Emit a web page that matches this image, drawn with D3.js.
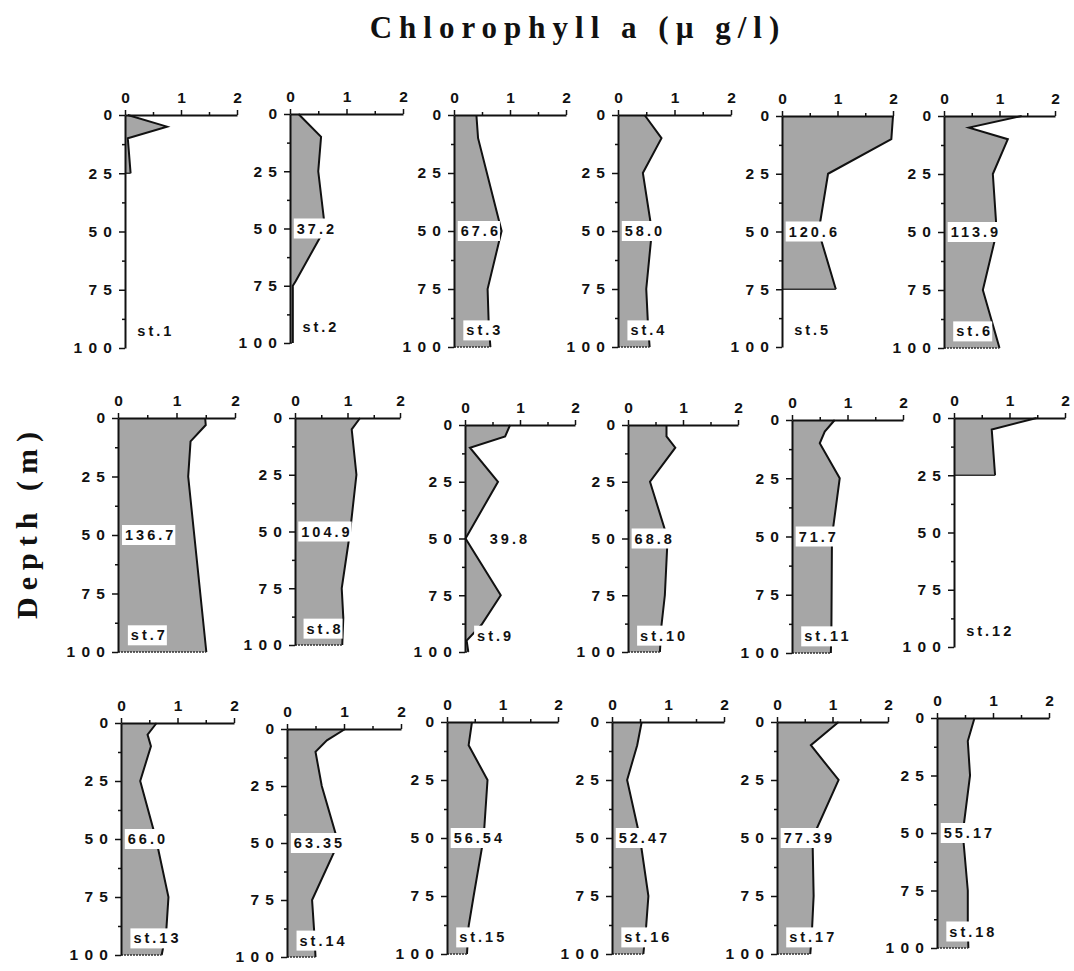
<!DOCTYPE html>
<html>
<head>
<meta charset="utf-8">
<script src="https://cdn.jsdelivr.net/npm/d3@7"></script>
<style>
  body { margin: 0; background: #fff; }
  .tick text { font-family: "Liberation Sans", Arial, sans-serif; font-weight: bold; font-size: 15.5px; fill: #111; }
  .ytk .tick text { letter-spacing: 1px; }
  .lbl { font-family: "Liberation Sans", Arial, sans-serif; font-weight: bold; font-size: 14.5px; fill: #111; letter-spacing: 3px; }
  .ttl { font-family: "Liberation Serif", "Times New Roman", serif; font-weight: bold; fill: #111; }
</style>
</head>
<body>
<div id="chart"></div>
<script>
// data: depth (m) and chlorophyll a (ug/l) per station
var stations = ["st.1","st.2","st.3","st.4","st.5","st.6","st.7","st.8","st.9",
  "st.10","st.11","st.12","st.13","st.14","st.15","st.16","st.17","st.18"];
var totals = ["", "37.2", "67.6", "58.0", "120.6", "113.9", "136.7", "104.9", "39.8",
  "68.8", "71.7", "", "66.0", "63.35", "56.54", "52.47", "77.39", "55.17"];
var depths = [
  [0, 5, 10, 25],
  [0, 10, 25, 50, 73, 75, 100],
  [0, 10, 50, 75, 90, 100],
  [0, 10, 25, 50, 75, 90, 100],
  [0, 10, 25, 50, 75],
  [0, 5, 10, 25, 50, 75, 90, 100],
  [0, 3, 10, 25, 100],
  [0, 5, 25, 50, 75, 88, 100],
  [0, 5, 10, 25, 50, 75, 88, 95, 100],
  [0, 5, 10, 25, 50, 75, 88, 100],
  [0, 5, 10, 25, 50, 90, 100],
  [0, 5, 25],
  [0, 5, 10, 25, 50, 75, 90, 100],
  [0, 5, 10, 25, 50, 75, 90, 100],
  [0, 10, 25, 50, 75, 88, 100],
  [0, 10, 25, 50, 75, 88, 100],
  [0, 10, 25, 50, 75, 90, 100],
  [0, 10, 25, 50, 75, 90, 100]
];
var chl = [
  [0.05, 0.75, 0.05, 0.1],
  [0.15, 0.55, 0.5, 0.62, 0.1, 0.05, 0.05],
  [0.4, 0.43, 0.85, 0.6, 0.62, 0.65],
  [0.47, 0.77, 0.44, 0.6, 0.5, 0.53, 0.56],
  [2.0, 1.97, 0.83, 0.66, 0.97],
  [1.4, 0.45, 1.15, 0.88, 0.95, 0.7, 0.88, 1.0],
  [1.49, 1.5, 1.24, 1.2, 1.51],
  [1.24, 1.08, 1.17, 1.05, 0.89, 0.92, 0.9],
  [0.82, 0.73, 0.09, 0.6, 0.01, 0.65, 0.3, 0.03, 0.06],
  [0.7, 0.7, 0.86, 0.4, 0.72, 0.67, 0.61, 0.58],
  [0.77, 0.59, 0.5, 0.86, 0.72, 0.71, 0.7],
  [1.49, 0.68, 0.74],
  [0.63, 0.47, 0.53, 0.34, 0.62, 0.84, 0.8, 0.72],
  [1.02, 0.7, 0.5, 0.61, 0.9, 0.44, 0.48, 0.5],
  [0.45, 0.39, 0.73, 0.66, 0.48, 0.39, 0.36],
  [0.53, 0.45, 0.27, 0.5, 0.65, 0.61, 0.56],
  [1.11, 0.61, 1.11, 0.64, 0.66, 0.63, 0.6],
  [0.67, 0.55, 0.59, 0.46, 0.55, 0.55, 0.56]
];
var xTicks = [0, 1, 2];
var yTicks = [0, 25, 50, 75, 100];

// panel placement in the page: [x of 0, x of 2, y of 0 m, y of 100 m]
var boxes = [
  [125, 237, 115, 348], [290, 403, 114, 343], [454, 566, 115, 347],
  [618, 731, 115, 347], [782, 893, 116, 347], [944, 1055, 116, 348],
  [118, 235, 418, 652], [295, 400, 418, 645], [465, 575, 425, 652],
  [628, 738, 425, 652], [792, 903, 420, 653], [954, 1065, 418, 647],
  [121, 234, 723, 955], [287, 401, 729, 957], [447, 558, 722, 954],
  [612, 724, 722, 954], [777, 888, 722, 954], [937, 1049, 718, 948]
];

var svgWidth = 1074;
var svgHeight = 971;
var svg = d3.select("#chart").append("svg")
  .attr("width", svgWidth)
  .attr("height", svgHeight);

svg.append("text").attr("class", "ttl")
  .attr("x", 578).attr("y", 38)
  .attr("text-anchor", "middle")
  .style("font-size", "31px").style("letter-spacing", "7px")
  .text("Chlorophyll  a  (\u00b5 g/l)");

svg.append("text").attr("class", "ttl")
  .attr("transform", "translate(37,522) rotate(-90)")
  .attr("text-anchor", "middle")
  .style("font-size", "30px").style("letter-spacing", "7px")
  .text("Depth (m)");

// spaced digits like the original typewriter labels
function spaced(v) { return String(v).split("").join(" "); }

stations.forEach(function(name, i) {
  var b = boxes[i];
  var x = d3.scaleLinear().domain([0, 2]).range([b[0], b[1]]);
  var y = d3.scaleLinear().domain([0, 100]).range([b[2], b[3]]);
  var pts = depths[i].map(function(d, k) { return { d: d, v: chl[i][k] }; });
  var g = svg.append("g");

  var area = d3.area()
    .y(function(p) { return y(p.d); })
    .x0(x(0))
    .x1(function(p) { return x(p.v); });
  g.append("path").datum(pts)
    .attr("d", area)
    .attr("fill", "#a6a6a6")
    .attr("stroke", "none");

  var line = d3.line()
    .x(function(p) { return x(p.v); })
    .y(function(p) { return y(p.d); });
  g.append("path").datum(pts)
    .attr("d", line)
    .attr("fill", "none")
    .attr("stroke", "#111")
    .attr("stroke-width", 2);

  // bottom edge of the profile
  var last = pts[pts.length - 1];
  g.append("line")
    .attr("x1", x(0)).attr("x2", x(last.v))
    .attr("y1", y(last.d)).attr("y2", y(last.d))
    .attr("stroke", "#333").attr("stroke-width", 1.5)
    .attr("stroke-dasharray", last.d === 100 ? "2,1" : null);

  // axes
  g.append("g")
    .attr("transform", "translate(0," + y(0) + ")")
    .call(d3.axisTop(x).tickValues(xTicks).tickSize(5).tickSizeOuter(0).tickPadding(7)
      .tickFormat(d3.format("d")));
  g.append("g")
    .attr("transform", "translate(0," + y(0) + ")")
    .call(d3.axisTop(x).tickValues([0.5, 1.5]).tickSize(3).tickFormat(""))
    .select(".domain").remove();
  g.append("g").attr("class", "ytk")
    .attr("transform", "translate(" + x(0) + ",0)")
    .call(d3.axisLeft(y).tickValues(yTicks).tickSize(6).tickSizeOuter(0).tickPadding(6)
      .tickFormat(spaced));
  g.append("g")
    .attr("transform", "translate(" + x(0) + ",0)")
    .call(d3.axisLeft(y).tickValues([12.5, 37.5, 62.5, 87.5]).tickSize(3).tickFormat(""))
    .select(".domain").remove();
  g.selectAll(".domain").attr("stroke", "#111").attr("stroke-width", 2);
  g.selectAll(".tick line").attr("stroke", "#111").attr("stroke-width", 1.5);

  // integrated value label
  if (totals[i]) {
    var t = g.append("text").attr("class", "lbl")
      .attr("x", x(i === 8 ? 0.45 : 0.12)).attr("y", y(50) + 5)
      .text(totals[i]);
    if (i !== 8) {
      var bb = t.node().getBBox();
      g.insert("rect", function() { return t.node(); })
        .attr("x", bb.x - 3).attr("y", bb.y - 2)
        .attr("width", bb.width + 2).attr("height", bb.height + 4)
        .attr("fill", "#fff");
    }
  }

  // station label
  var s = g.append("text").attr("class", "lbl")
    .attr("x", x(0.22)).attr("y", y(95))
    .text(name);
  var sb = s.node().getBBox();
  g.insert("rect", function() { return s.node(); })
    .attr("x", sb.x - 3).attr("y", sb.y - 2)
    .attr("width", sb.width + 2).attr("height", sb.height + 4)
    .attr("fill", "#fff");
});
</script>
</body>
</html>
